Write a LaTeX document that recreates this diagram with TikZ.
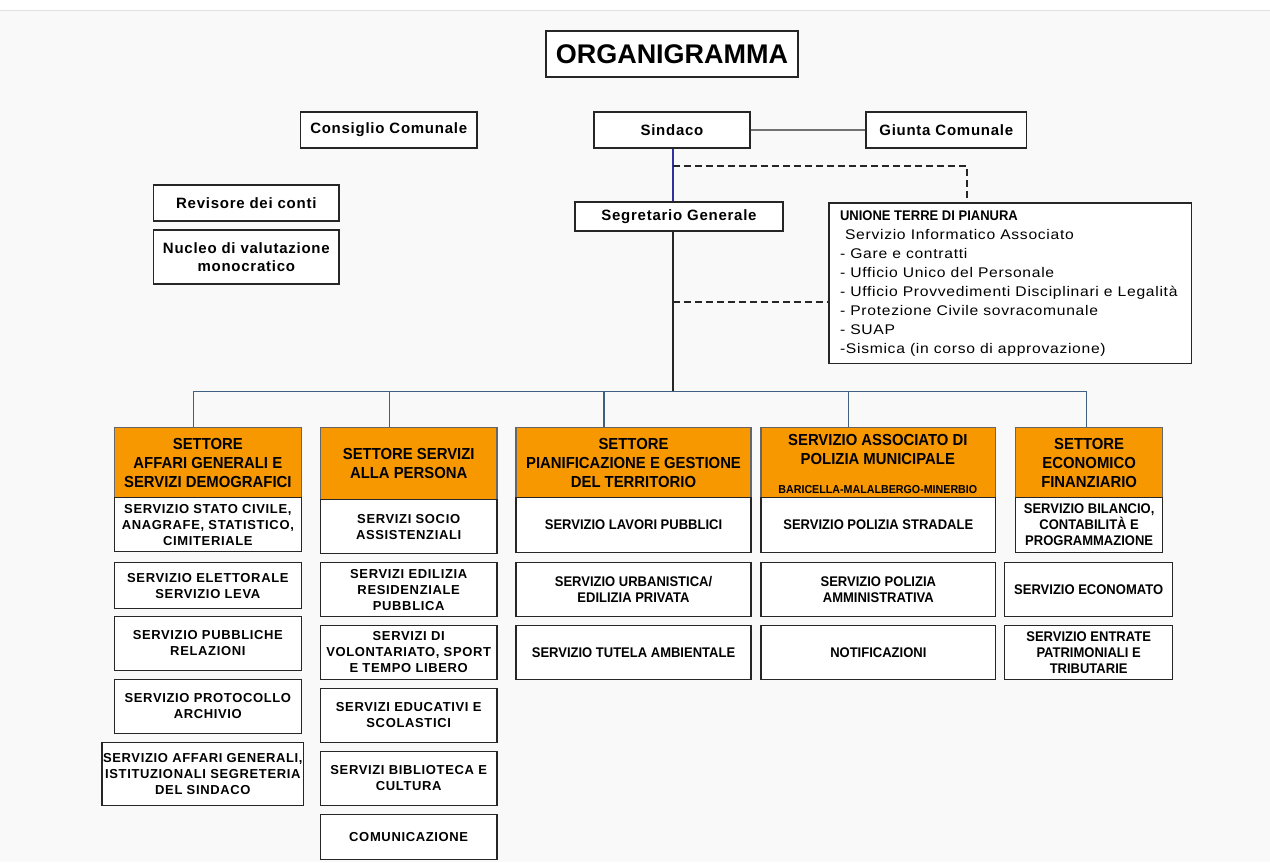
\documentclass[tikz,border=0pt]{standalone}
\usepackage{fontspec}
\setmainfont{Liberation Sans}
\newfontfamily\nar[FakeStretch=0.93]{Liberation Sans}
\newfontfamily\wid[LetterSpace=5]{Liberation Sans}
\newfontfamily\spc[FakeStretch=1.12,LetterSpace=5]{Liberation Sans}
\definecolor{bgc}{HTML}{F9F9F9}
\definecolor{orc}{HTML}{F79800}
\definecolor{steel}{HTML}{3F6080}
\definecolor{navyl}{HTML}{3030A0}
\newcommand\bx[7][box]{\node[#1,minimum width=#5pt-#3pt,minimum height=#6pt-#4pt] (#2) at ({(#3+#5)/2},{(#4+#6)/2}) {#7};}
\begin{document}
\begin{tikzpicture}[x=1pt,y=-1pt,
  box/.style={draw=black!85,line width=1.5pt,fill=white,align=center,inner sep=1pt},
  title/.style={box,font=\bfseries\fontsize{27}{30}\selectfont},
  topb/.style={box,font=\wid\bfseries\fontsize{15}{18}\selectfont},
  hd/.style={box,fill=orc,draw=black!60,font=\nar\bfseries\fontsize{16}{19}\selectfont},
  sub/.style={box,font=\wid\bfseries\fontsize{13}{16}\selectfont},
  subn/.style={box,font=\nar\bfseries\fontsize{14}{16}\selectfont},
  dsh/.style={draw=black!85,line width=1.5pt,dash pattern=on 7pt off 4pt}]
\fill[bgc] (0,0) rectangle (1270,863);
\fill[white] (0,0) rectangle (1270,10);
\draw[black!12,line width=1pt] (0,10.5) -- (1270,10.5);
\useasboundingbox (0,0) rectangle (1270,863);

\bx[title]{org}{546}{31}{798}{77}{ORGANIGRAMMA}
\bx[topb]{cons}{300}{112}{477}{148}{Consiglio Comunale}
\bx[topb]{sind}{594}{112}{750}{148}{Sindaco}
\bx[topb]{giun}{866}{112}{1027}{148}{Giunta Comunale}
\bx[topb]{segr}{575}{202}{783}{231}{Segretario Generale}
\bx[topb]{rev}{153}{185}{339}{221}{Revisore dei conti}
\bx[topb]{nuc}{153}{230}{339}{284}{Nucleo di valutazione\\monocratico}
\bx[box]{uni}{829}{203}{1192}{364}{}
\node[anchor=north west,align=left,inner sep=0,font=\spc\fontsize{14}{19}\selectfont] (unitxt) at (840,211)
 {{\nar\bfseries UNIONE TERRE DI PIANURA}\\
  \ Servizio Informatico Associato\\
  - Gare e contratti\\
  - Ufficio Unico del Personale\\
  - Ufficio Provvedimenti Disciplinari e Legalità\\
  - Protezione Civile sovracomunale\\
  - SUAP\\
  -Sismica (in corso di approvazione)};

% headers
\bx[hd]{h1}{114}{428}{301}{498}{SETTORE\\AFFARI GENERALI E\\SERVIZI DEMOGRAFICI}
\bx[hd]{h2}{320}{428}{497}{500}{SETTORE SERVIZI\\ALLA PERSONA}
\bx[hd]{h3}{516}{428}{751}{498}{SETTORE\\PIANIFICAZIONE E GESTIONE\\DEL TERRITORIO}
\bx[hd]{h4}{761}{428}{996}{498}{}
\node[align=center,inner sep=0,font=\nar\bfseries\fontsize{16}{19}\selectfont] (h4a) at (878,450) {SERVIZIO ASSOCIATO DI\\POLIZIA MUNICIPALE};
\node[inner sep=0,font=\nar\bfseries\fontsize{11.5}{13}\selectfont] (h4b) at (878,490) {BARICELLA-MALALBERGO-MINERBIO};
\bx[hd]{h5}{1016}{428}{1163}{498}{SETTORE\\ECONOMICO\\FINANZIARIO}

% column 1
\bx[sub]{s11}{114}{498}{301}{552}{SERVIZIO STATO CIVILE,\\ANAGRAFE, STATISTICO,\\CIMITERIALE}
\bx[sub]{s12}{114}{563}{301}{609}{SERVIZIO ELETTORALE\\SERVIZIO LEVA}
\bx[sub]{s13}{114}{617}{301}{671}{SERVIZIO PUBBLICHE\\RELAZIONI}
\bx[sub]{s14}{114}{680}{301}{734}{SERVIZIO PROTOCOLLO\\ARCHIVIO}
\bx[sub]{s15}{104}{743}{301}{806}{SERVIZIO AFFARI GENERALI,\\ISTITUZIONALI SEGRETERIA\\DEL SINDACO}
% column 2
\bx[sub]{s21}{320}{500}{497}{554}{SERVIZI SOCIO\\ASSISTENZIALI}
\bx[sub]{s22}{320}{563}{497}{617}{SERVIZI EDILIZIA\\RESIDENZIALE\\PUBBLICA}
\bx[sub]{s23}{320}{626}{497}{680}{SERVIZI DI\\VOLONTARIATO, SPORT\\E TEMPO LIBERO}
\bx[sub]{s24}{320}{689}{497}{743}{SERVIZI EDUCATIVI E\\SCOLASTICI}
\bx[sub]{s25}{320}{752}{497}{806}{SERVIZI BIBLIOTECA E\\CULTURA}
\bx[sub]{s26}{320}{815}{497}{860}{COMUNICAZIONE}
% column 3
\bx[subn]{s31}{516}{498}{751}{553}{SERVIZIO LAVORI PUBBLICI}
\bx[subn]{s32}{516}{563}{751}{617}{SERVIZIO URBANISTICA/\\EDILIZIA PRIVATA}
\bx[subn]{s33}{516}{626}{751}{680}{SERVIZIO TUTELA AMBIENTALE}
% column 4
\bx[subn]{s41}{761}{498}{996}{553}{SERVIZIO POLIZIA STRADALE}
\bx[subn]{s42}{761}{563}{996}{617}{SERVIZIO POLIZIA\\AMMINISTRATIVA}
\bx[subn]{s43}{761}{626}{996}{680}{NOTIFICAZIONI}
% column 5
\bx[subn]{s51}{1016}{498}{1163}{553}{SERVIZIO BILANCIO,\\CONTABILITÀ E\\PROGRAMMAZIONE}
\bx[subn]{s52}{1005}{563}{1173}{617}{SERVIZIO ECONOMATO}
\bx[subn]{s53}{1005}{626}{1173}{680}{SERVIZIO ENTRATE\\PATRIMONIALI E\\TRIBUTARIE}

% connectors
\coordinate (hub) at (673,392);
\draw[black!55,line width=1.5pt] (sind.east) -- (giun.west);
\draw[navyl,line width=1.2pt] (hub |- sind.south) -- (hub |- segr.north);
\coordinate (d1) at (673,166);
\coordinate (d2) at (967,166);
\draw[dsh] (d1) -- (d2) -- (d2 |- uni.north);
\coordinate (d3) at (673,302);
\draw[dsh] (d3) -- (d3 -| uni.west);
\draw[black!85,line width=1.3pt] (hub |- segr.south) -- (hub);
\coordinate (t1) at (193,392);
\coordinate (t2) at (389,392);
\coordinate (t3) at (604,392);
\coordinate (t4) at (849,392);
\coordinate (t5) at (1087,392);
\draw[steel,line width=1.3pt] (t1) -- (t5);
\draw[steel,line width=1.3pt] (t1) -- (t1 |- h1.north);
\draw[steel,line width=1.3pt] (t2) -- (t2 |- h2.north);
\draw[steel,line width=1.3pt] (t3) -- (t3 |- h3.north);
\draw[steel,line width=1.3pt] (t4) -- (t4 |- h4.north);
\draw[steel,line width=1.3pt] (t5) -- (t5 |- h5.north);
\end{tikzpicture}
\end{document}
